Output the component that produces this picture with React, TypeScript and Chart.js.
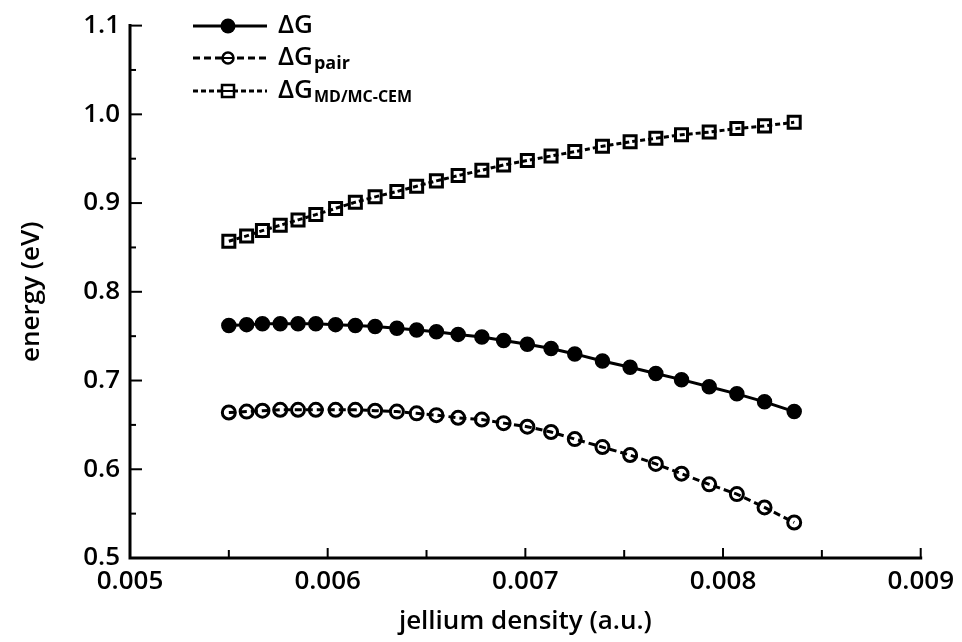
import React, { useEffect, useRef } from "react";
import { Chart, registerables } from "chart.js";

Chart.register(...registerables);

// jellium density (a.u.)
const density = [
  0.0055, 0.00559, 0.00567, 0.00576, 0.00585, 0.00594, 0.00604, 0.00614, 0.00624,
  0.00635, 0.00645, 0.00655, 0.00666, 0.00678, 0.00689, 0.00701, 0.00713, 0.00725,
  0.00739, 0.00753, 0.00766, 0.00779, 0.00793, 0.00807, 0.00821, 0.00836,
];
// ΔG (eV)
const dG = [
  0.762, 0.763, 0.764, 0.764, 0.764, 0.764, 0.763, 0.762, 0.761, 0.759, 0.757, 0.755,
  0.752, 0.749, 0.745, 0.741, 0.736, 0.73, 0.722, 0.715, 0.708, 0.701, 0.693, 0.685,
  0.676, 0.665,
];
// ΔG_pair (eV)
const dGpair = [
  0.664, 0.665, 0.666, 0.667, 0.667, 0.667, 0.667, 0.667, 0.666, 0.665, 0.663, 0.661,
  0.658, 0.656, 0.652, 0.648, 0.642, 0.634, 0.625, 0.616, 0.606, 0.595, 0.583, 0.572,
  0.557, 0.54,
];
// ΔG_MD/MC-CEM (eV)
const dGmd = [
  0.857, 0.863, 0.869, 0.875, 0.881, 0.887, 0.894, 0.901, 0.907, 0.913, 0.919, 0.925,
  0.931, 0.937, 0.943, 0.948, 0.953, 0.958, 0.964, 0.969, 0.973, 0.977, 0.98, 0.984,
  0.987, 0.991,
];

const seriesNames = ["ΔG", "ΔG", "ΔG"];
const seriesSubs = ["", "pair", "MD/MC-CEM"];
const xTitle = "jellium density (a.u.)";
const yTitle = "energy (eV)";

const FONT = "'Open Sans', 'DejaVu Sans', sans-serif";

const axesPlugin = {
  id: "customAxes",
  afterDraw(chart: any) {
    const { ctx, chartArea } = chart;
    const { left, right, top, bottom } = chartArea;
    const xs = chart.scales.x;
    const ys = chart.scales.y;
    ctx.save();
    ctx.strokeStyle = "#000";
    ctx.lineCap = "square";
    ctx.lineWidth = 3;
    ctx.beginPath();
    ctx.moveTo(left, top);
    ctx.lineTo(left, bottom);
    ctx.lineTo(right, bottom);
    ctx.stroke();
    ctx.lineWidth = 2;
    ctx.lineCap = "butt";
    const yt = ys.ticks.map((t: any) => t.value);
    yt.forEach((v: number, i: number) => {
      const py = ys.getPixelForValue(v);
      ctx.beginPath();
      ctx.moveTo(left, py);
      ctx.lineTo(left + 12, py);
      ctx.stroke();
      if (i < yt.length - 1) {
        const pm = ys.getPixelForValue((v + yt[i + 1]) / 2);
        ctx.beginPath();
        ctx.moveTo(left, pm);
        ctx.lineTo(left + 6, pm);
        ctx.stroke();
      }
    });
    const xt = xs.ticks.map((t: any) => t.value);
    xt.forEach((v: number, i: number) => {
      const px = xs.getPixelForValue(v);
      ctx.beginPath();
      ctx.moveTo(px, bottom);
      ctx.lineTo(px, bottom - 10);
      ctx.stroke();
      if (i < xt.length - 1) {
        const pm = xs.getPixelForValue((v + xt[i + 1]) / 2);
        ctx.beginPath();
        ctx.moveTo(pm, bottom);
        ctx.lineTo(pm, bottom - 8);
        ctx.stroke();
      }
    });
    ctx.restore();
  },
};

const legendPlugin = {
  id: "customLegend",
  afterDraw(chart: any) {
    const { ctx } = chart;
    const rows = [26, 58, 91];
    const x0 = 193;
    const x1 = 267;
    const xm = 228;
    const xt = 278;
    ctx.save();
    chart.data.datasets.forEach((ds: any, i: number) => {
      const y = rows[i];
      ctx.strokeStyle = "#000";
      ctx.lineWidth = 3;
      ctx.setLineDash(ds.borderDash || []);
      ctx.beginPath();
      ctx.moveTo(x0, y);
      ctx.lineTo(x1, y);
      ctx.stroke();
      ctx.setLineDash([]);
      ctx.lineWidth = 2.5;
      if (ds.pointStyle === "rect") {
        const s = 6;
        ctx.fillStyle = "#fff";
        ctx.beginPath();
        ctx.rect(xm - s, y - s, 2 * s, 2 * s);
        ctx.fill();
        ctx.stroke();
        ctx.beginPath();
        ctx.moveTo(xm - s, y);
        ctx.lineTo(xm + s, y);
        ctx.lineWidth = 2;
        ctx.stroke();
      } else if (i === 0) {
        ctx.fillStyle = "#000";
        ctx.beginPath();
        ctx.arc(xm, y, 7.5, 0, Math.PI * 2);
        ctx.fill();
      } else {
        ctx.fillStyle = "#fff";
        ctx.beginPath();
        ctx.arc(xm, y, 5.5, 0, Math.PI * 2);
        ctx.fill();
        ctx.stroke();
        ctx.beginPath();
        ctx.moveTo(xm - 5, y);
        ctx.lineTo(xm + 5, y);
        ctx.lineWidth = 2;
        ctx.stroke();
      }
      ctx.fillStyle = "#000";
      ctx.textBaseline = "middle";
      ctx.textAlign = "left";
      ctx.font = `600 26px ${FONT}`;
      ctx.fillText(seriesNames[i], xt, y);
      const w = ctx.measureText(seriesNames[i]).width;
      if (seriesSubs[i]) {
        ctx.font = `bold ${i === 1 ? 18 : 16}px ${FONT}`;
        ctx.fillText(seriesSubs[i], xt + w + 1, y + 6);
      }
    });
    ctx.restore();
  },
};

export default function App() {
  const ref = useRef<HTMLCanvasElement | null>(null);
  useEffect(() => {
    if (!ref.current) return;
    const font = { family: FONT, size: 26, weight: "600" };
    const mk = (ys: number[]) => density.map((x, i) => ({ x, y: ys[i] }));
    const chart = new Chart(ref.current, {
      type: "line",
      data: {
        datasets: [
          {
            label: "ΔG",
            data: mk(dG),
            borderColor: "#000",
            borderWidth: 3,
            pointRadius: 7,
            pointBackgroundColor: "#000",
            pointBorderColor: "#000",
            pointBorderWidth: 1.5,
            tension: 0,
          },
          {
            label: "ΔGpair",
            data: mk(dGpair),
            borderColor: "#000",
            borderWidth: 3,
            borderDash: [7, 4],
            pointRadius: 6.5,
            pointBackgroundColor: "rgba(0,0,0,0)",
            pointBorderColor: "#000",
            pointBorderWidth: 3,
            tension: 0,
          },
          {
            label: "ΔGMD/MC-CEM",
            data: mk(dGmd),
            borderColor: "#000",
            borderWidth: 3,
            borderDash: [5, 3],
            pointStyle: "rect",
            pointRadius: 8.5,
            pointBackgroundColor: "rgba(0,0,0,0)",
            pointBorderColor: "#000",
            pointBorderWidth: 3,
            tension: 0,
          },
        ],
      } as any,
      options: {
        responsive: false,
        animation: false,
        layout: { padding: { top: 25, right: 40, left: 0, bottom: 0 } },
        plugins: { legend: { display: false }, tooltip: { enabled: false } },
        scales: {
          x: {
            type: "linear",
            min: 0.005,
            max: 0.009,
            ticks: {
              stepSize: 0.001,
              callback: (v: any) => Number(v).toFixed(3),
              font,
              color: "#000",
              padding: 8,
              maxRotation: 0,
              autoSkip: false,
            },
            grid: { display: false, drawTicks: false },
            border: { display: false },
            title: {
              display: true,
              text: xTitle,
              font,
              color: "#000",
              padding: { top: 0, bottom: 5 },
            },
            afterFit: (s: any) => {
              s.height = 84;
            },
          },
          y: {
            type: "linear",
            min: 0.5,
            max: 1.1,
            ticks: {
              stepSize: 0.1,
              callback: (v: any) => Number(v).toFixed(1),
              font,
              color: "#000",
              padding: 10,
            },
            grid: { display: false, drawTicks: false },
            border: { display: false },
            title: {
              display: true,
              text: yTitle,
              font,
              color: "#000",
              padding: { top: 16, bottom: 0 },
            },
            afterFit: (s: any) => {
              s.width = 130;
            },
          },
        },
      } as any,
      plugins: [axesPlugin, legendPlugin],
    });
    return () => chart.destroy();
  }, []);
  return (
    <div style={{ position: "absolute", left: 0, top: 0, width: 962, height: 642, background: "#fff" }}>
      <canvas ref={ref} width={962} height={642} style={{ display: "block" }} />
    </div>
  );
}
